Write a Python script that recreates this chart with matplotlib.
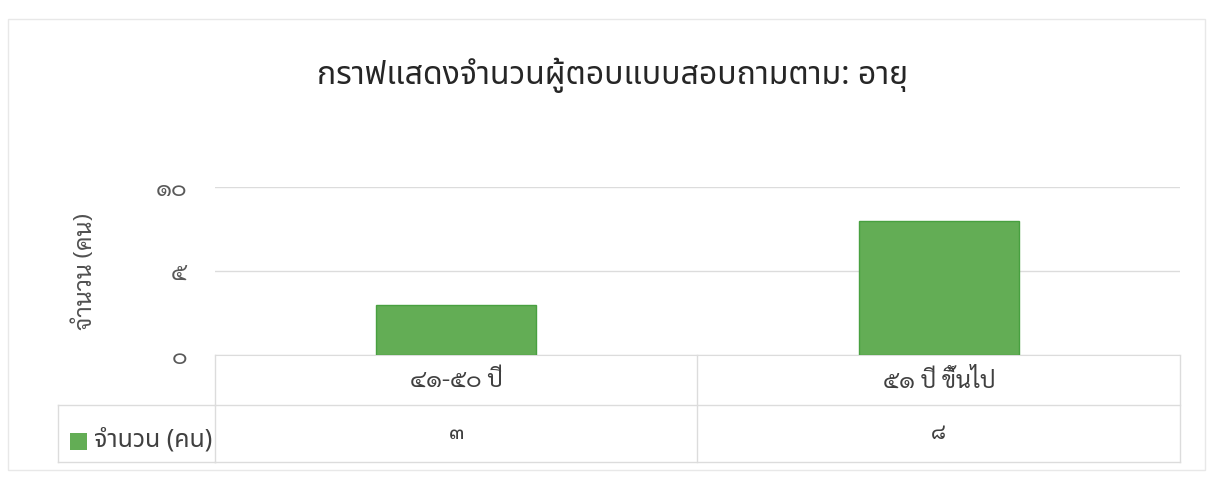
import matplotlib
matplotlib.use("Agg")
import matplotlib.pyplot as plt
import matplotlib.transforms as mtransforms
from matplotlib.patches import Rectangle

# data
categories = ["๔๑-๕๐ ปี", "๕๑ ปี ขึ้นไป"]
values = [3, 8]
value_labels = ["๓", "๘"]
series_name = "จำนวน (คน)"
yticks = [0, 5, 10]
ytick_labels = ["๐", "๕", "๑๐"]
title = "กราฟแสดงจำนวนผู้ตอบแบบสอบถามตาม: อายุ"

loopless = ["Noto Sans Thai", "DejaVu Sans"]
looped = ["Sarabun", "Noto Sans Thai", "DejaVu Sans"]
green = "#63ad55"
grid_c = "#dcdcdc"
text_c = "#404040"

fig = plt.figure(figsize=(12.13, 4.8), dpi=100)
fig.patch.set_facecolor("white")

# faint outer chart border
fig.add_artist(Rectangle((0.007, 0.02), 0.986, 0.94, transform=fig.transFigure,
                         fill=False, edgecolor="#e8e8e8", linewidth=1))

ax = fig.add_axes([0.177, 0.2604, 0.796, 0.35])
x = range(len(categories))
ax.bar(x, values, width=0.33, color=green, edgecolor="#48a040", linewidth=1, zorder=3)
ax.set_xlim(-0.5, len(categories) - 0.5)
ax.set_ylim(0, 10)
ax.set_yticks(yticks)
ax.set_yticklabels(ytick_labels, fontsize=17, color="#595959", family=looped)
ax.set_xticks([])
ax.tick_params(axis="y", length=0, pad=20)
ax.grid(axis="y", color=grid_c, linewidth=1, zorder=0)
for s in ["top", "right", "left"]:
    ax.spines[s].set_visible(False)
ax.spines["bottom"].set_color(grid_c)
ax.set_ylabel(series_name, fontsize=17, color="#505050", family=looped, labelpad=42)

# data table under the plot
tr = mtransforms.blended_transform_factory(ax.transData, ax.transAxes)
row1_y, row2_y = -0.298, -0.637
for xi, cat, lab in zip(x, categories, value_labels):
    ax.text(xi, -0.15, cat, transform=tr, ha="center", va="center", fontsize=17,
            color=text_c, family=looped, clip_on=False)
    ax.text(xi, -0.465, lab, transform=tr, ha="center", va="center", fontsize=16,
            color=text_c, family=looped, clip_on=False)
for xb in [-0.5, 0.5, 1.5]:
    ax.plot([xb, xb], [0, row2_y], transform=tr, color=grid_c, linewidth=1, clip_on=False)
ax.plot([-0.5, 1.5], [row1_y, row1_y], transform=tr, color=grid_c, linewidth=1, clip_on=False)
ax.plot([-0.5, 1.5], [row2_y, row2_y], transform=tr, color=grid_c, linewidth=1, clip_on=False)

# legend cell at the left of the table
y1 = 1 - 405 / 480
y2 = 1 - 462 / 480
fig.add_artist(plt.Line2D([58 / 1213, 215 / 1213], [y1, y1], color=grid_c, linewidth=1))
fig.add_artist(plt.Line2D([58 / 1213, 215 / 1213], [y2, y2], color=grid_c, linewidth=1))
fig.add_artist(plt.Line2D([58 / 1213, 58 / 1213], [y1, y2], color=grid_c, linewidth=1))
fig.add_artist(Rectangle((70 / 1213, 1 - 450 / 480), 17 / 1213, 17 / 480,
                         transform=fig.transFigure, facecolor=green, edgecolor="none"))
fig.text(94 / 1213, 1 - 440 / 480, series_name, fontsize=18, color=text_c,
         family=loopless, va="center", ha="left")

fig.text(0.505, 1 - 75 / 480, title, fontsize=23, color="#262626",
         family=loopless, ha="center", va="center")

fig.savefig("out.png", dpi=100)
